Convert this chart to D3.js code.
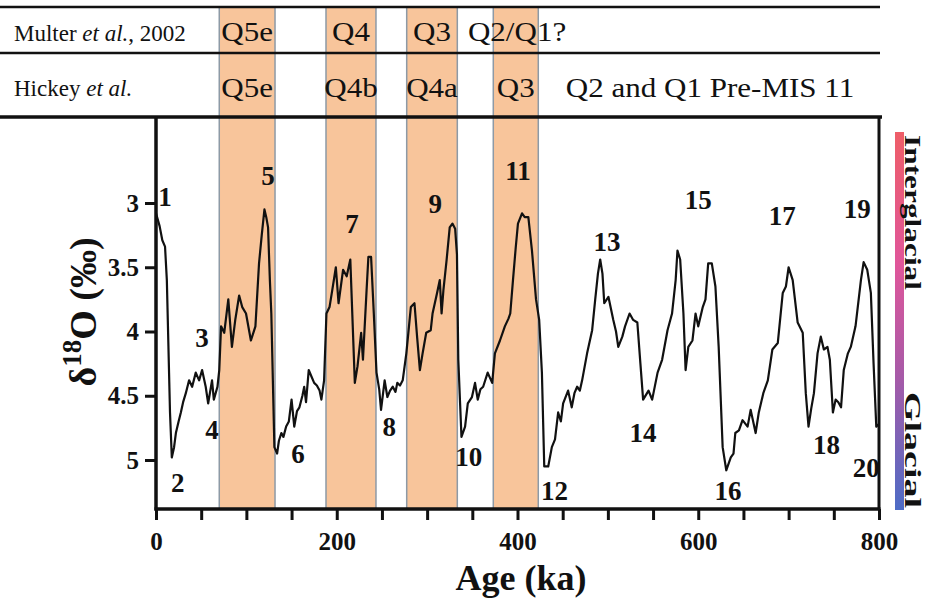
<!DOCTYPE html>
<html>
<head>
<meta charset="utf-8">
<style>
  body { margin: 0; background: #fff; }
  text { font-family: "Liberation Serif", "Times New Roman", serif; fill: #111; }
</style>
</head>
<body>
<svg id="chart" width="930" height="599"></svg>
<script src="https://cdn.jsdelivr.net/npm/d3@7"></script>
<script>
// d18O record (age in ka, d18O in per mil)
let ages = [0, 4, 7, 10, 12, 15.5, 17.5, 20, 22, 25, 27.5, 30, 33, 36.6, 40, 44, 47.7, 51, 55, 57.7,
  62, 64, 68, 70, 72, 75.5, 80, 84, 87.7, 92, 95.4, 99.6, 105, 110, 114, 117, 120, 122, 124, 126,
  127.6, 131, 134, 136, 138.7, 141, 144, 147, 150, 153, 156, 158.7, 162, 164, 166, 169, 172, 175, 178, 181,
  183, 186, 188.6, 192, 195, 199, 202, 207, 211, 215, 220, 223, 227, 229, 233, 235, 238, 241, 244, 247,
  249, 253, 256, 259, 262, 265, 267, 270, 273, 277, 282, 286, 289, 292, 295, 299, 304, 306, 311, 314,
  316, 318, 321.6, 325, 328, 331, 333, 334.5, 338, 342, 345, 349.6, 353, 356, 359, 362, 367, 372, 375, 380.6,
  386, 390, 392, 395, 398, 400.5, 405, 408, 412, 416, 420.5, 424, 427, 429.6, 434, 438, 441.5, 445, 448, 450.5,
  456, 460, 463, 466, 469, 471.5, 477, 482.6, 486, 489, 491.5, 494, 496, 500.6, 506, 509, 511.5, 516, 519, 524,
  528, 532.6, 536, 539, 545, 549, 555, 560, 566, 571, 575, 577, 580, 583.6, 586, 589, 593.6, 597, 600, 605,
  608, 611, 615, 619, 622.6, 627, 631, 636, 639, 641, 645, 649, 654.6, 658, 663.5, 667, 672, 677, 682, 688,
  693.5, 697, 700, 704.5, 710, 715.6, 719, 722, 725, 728, 732, 735.6, 739, 743, 745.6, 749, 752, 755, 758, 761,
  765.6, 768.8, 774, 780, 783, 787, 791, 794, 797, 800];
let d18O = [3.08, 3.18, 3.29, 3.34, 3.60, 4.63, 4.98, 4.90, 4.79, 4.70, 4.63, 4.55, 4.48, 4.38, 4.43, 4.32, 4.38, 4.30, 4.43, 4.56,
  4.38, 4.53, 4.43, 4.30, 3.96, 4.01, 3.75, 4.12, 3.91, 3.72, 3.81, 3.86, 4.07, 3.96, 3.47, 3.25, 3.05, 3.11, 3.19, 3.60,
  3.86, 4.90, 4.95, 4.85, 4.79, 4.82, 4.74, 4.70, 4.53, 4.74, 4.62, 4.59, 4.50, 4.43, 4.55, 4.30, 4.35, 4.40, 4.42, 4.46,
  4.53, 4.38, 3.86, 3.81, 3.68, 3.50, 3.78, 3.52, 3.57, 3.44, 4.40, 4.27, 4.01, 4.22, 3.68, 3.42, 3.42, 3.86, 4.32, 4.45,
  4.61, 4.38, 4.51, 4.46, 4.43, 4.47, 4.40, 4.42, 4.38, 4.17, 3.81, 3.78, 4.05, 4.30, 4.17, 4.01, 3.99, 3.86, 3.70, 3.60,
  3.86, 3.68, 3.44, 3.19, 3.16, 3.20, 3.40, 4.22, 4.82, 4.74, 4.56, 4.51, 4.40, 4.53, 4.45, 4.43, 4.32, 4.40, 4.17, 4.07,
  3.96, 3.90, 3.86, 3.60, 3.35, 3.16, 3.08, 3.11, 3.11, 3.37, 3.75, 3.91, 4.32, 5.05, 5.05, 4.90, 4.84, 4.63, 4.70, 4.56,
  4.46, 4.59, 4.48, 4.43, 4.46, 4.38, 4.17, 3.99, 3.75, 3.55, 3.44, 3.55, 3.78, 3.73, 3.91, 4.00, 4.12, 4.04, 3.96, 3.86,
  3.91, 3.93, 4.25, 4.53, 4.46, 4.53, 4.32, 4.22, 3.99, 3.86, 3.60, 3.37, 3.44, 3.86, 4.30, 4.12, 4.07, 3.86, 3.96, 3.81,
  3.75, 3.47, 3.47, 3.65, 4.12, 4.90, 5.08, 4.98, 4.95, 4.79, 4.77, 4.69, 4.74, 4.61, 4.79, 4.63, 4.48, 4.38, 4.14, 4.09,
  3.70, 3.65, 3.50, 3.60, 3.93, 4.01, 4.48, 4.74, 4.60, 4.48, 4.17, 4.04, 4.14, 4.12, 4.22, 4.63, 4.53, 4.55, 4.59, 4.30,
  4.17, 4.12, 3.96, 3.60, 3.46, 3.52, 3.70, 4.25, 4.74, 4.72];

// marine isotope stage labels, anchored in data units (age, d18O at baseline)
let stageNums = ["1", "2", "3", "4", "5", "6", "7", "8", "9", "10",
  "11", "12", "13", "14", "15", "16", "17", "18", "19", "20"];
let stageAge = [10, 24, 51, 62, 124, 157, 217, 258, 309, 346,
  400.5, 441, 499, 539, 600, 633, 693, 742, 776, 786];
let stageVal = [3.02, 5.25, 4.12, 4.84, 2.86, 5.02, 3.23, 4.81, 3.08, 5.05,
  2.82, 5.31, 3.37, 4.86, 3.05, 5.31, 3.17, 4.95, 3.12, 5.13];

// shaded terrace bands (ka)
let bandStart = [70, 188.1, 277.4, 373.2];
let bandEnd = [131.7, 243.4, 333.4, 423];
let multerLabels = ["Q5e", "Q4", "Q3", "Q2/Q1?"];
let hickeyLabels = ["Q5e", "Q4b", "Q4a", "Q3"];
let extraHickey = "Q2 and Q1 Pre-MIS 11";
let extraHickeyAge = 613;

let xTicks = d3.range(0, 801, 50);
let xLabelled = [0, 200, 400, 600, 800];
let yTicks = [3, 3.5, 4, 4.5, 5];

let svg = d3.select("#chart");
let x = d3.scaleLinear().domain([0, 800]).range([156, 879]);
let y = d3.scaleLinear().domain([3, 5]).range([203, 460]);
let plotTop = 117, plotBottom = 509;

// bands
let bands = svg.append("g");
bands.selectAll("rect")
  .data(bandStart)
  .enter()
  .append("rect")
  .attr("x", (d) => x(d))
  .attr("y", 7)
  .attr("width", (d, i) => x(bandEnd[i]) - x(d))
  .attr("height", plotBottom - 7)
  .attr("fill", "#f8c59b")
  .attr("stroke", "#8d9aa6")
  .attr("stroke-width", 1.5);

// header lines
let lines = svg.append("g").attr("stroke", "#111");
lines.append("line").attr("x1", 0).attr("x2", 880).attr("y1", 7).attr("y2", 7).attr("stroke-width", 2.5);
lines.append("line").attr("x1", 0).attr("x2", 880).attr("y1", 53).attr("y2", 53).attr("stroke-width", 2.5);

// header texts
let head = svg.append("g");
let t1 = head.append("text").attr("x", 14).attr("y", 41).attr("font-size", 23);
t1.append("tspan").text("Multer ");
t1.append("tspan").attr("font-style", "italic").text("et al.");
t1.append("tspan").text(", 2002");
let t2 = head.append("text").attr("x", 14).attr("y", 96).attr("font-size", 23);
t2.append("tspan").text("Hickey ");
t2.append("tspan").attr("font-style", "italic").text("et al.");

function headLabel(txt, cx, base) {
  head.append("text")
    .attr("transform", `translate(${cx},${base}) scale(1.15,1)`)
    .attr("text-anchor", "middle")
    .attr("font-size", 27)
    .text(txt);
}
multerLabels.forEach((s, i) => {
  let mid = (bandStart[i] + bandEnd[i]) / 2;
  if (i === 3) mid = 399.5;
  headLabel(s, x(mid), 41);
});
hickeyLabels.forEach((s, i) => headLabel(s, x((bandStart[i] + bandEnd[i]) / 2), 97));
headLabel(extraHickey, x(extraHickeyAge), 97);

// curve
let line = d3.line().x((d, i) => x(ages[i])).y((d) => y(d));
svg.append("path")
  .datum(d18O)
  .attr("d", line)
  .attr("fill", "none")
  .attr("stroke", "#111")
  .attr("stroke-width", 2.2)
  .attr("stroke-linejoin", "round");

// axes
let xAxis = d3.axisBottom(x)
  .tickValues(xTicks)
  .tickFormat((d) => (xLabelled.includes(d) ? d : ""))
  .tickSize(11)
  .tickSizeOuter(0)
  .tickPadding(12);
let gx = svg.append("g").attr("transform", `translate(0,${plotBottom})`).call(xAxis);
gx.select(".domain").remove();

let yAxis = d3.axisLeft(y)
  .tickValues(yTicks)
  .tickFormat(d3.format("~g"))
  .tickSize(11)
  .tickPadding(6);
let gy = svg.append("g").attr("transform", `translate(${x(0)},0)`).call(yAxis);
gy.select(".domain").remove();

[gx, gy].forEach((g) => {
  g.selectAll(".tick line").attr("stroke", "#111").attr("stroke-width", 3);
  g.selectAll(".tick text")
    .attr("font-family", "Liberation Serif, serif")
    .attr("font-weight", "bold")
    .attr("font-size", 25)
    .attr("fill", "#111");
});

// frame
let frame = svg.append("g").attr("stroke", "#111").attr("fill", "none");
frame.append("line").attr("x1", 0).attr("x2", 882).attr("y1", plotTop).attr("y2", plotTop).attr("stroke-width", 3.5);
frame.append("line").attr("x1", x(0)).attr("x2", x(0)).attr("y1", plotTop).attr("y2", plotBottom + 1.5).attr("stroke-width", 3.5);
frame.append("line").attr("x1", x(0) - 1.5).attr("x2", x(800) + 1.5).attr("y1", plotBottom).attr("y2", plotBottom).attr("stroke-width", 3.5);
frame.append("line").attr("x1", x(800)).attr("x2", x(800)).attr("y1", plotTop).attr("y2", plotBottom).attr("stroke-width", 3);

// stage labels
svg.append("g")
  .selectAll("text")
  .data(stageNums)
  .enter()
  .append("text")
  .attr("x", (d, i) => x(stageAge[i]))
  .attr("y", (d, i) => y(stageVal[i]))
  .attr("text-anchor", "middle")
  .attr("font-weight", "bold")
  .attr("font-size", 27)
  .text((d) => d);

// axis titles
svg.append("text")
  .attr("x", x(404))
  .attr("y", 590)
  .attr("text-anchor", "middle")
  .attr("font-weight", "bold")
  .attr("font-size", 36)
  .text("Age (ka)");

let yt = svg.append("text")
  .attr("transform", "translate(96,312) rotate(-90)")
  .attr("text-anchor", "middle")
  .attr("font-weight", "bold")
  .attr("font-size", 38);
yt.append("tspan").text("δ");
yt.append("tspan").attr("font-size", 27).attr("dy", -15).text("18");
yt.append("tspan").attr("dy", 15).text("O (‰)");

// glacial / interglacial bar
let grad = svg.append("defs").append("linearGradient")
  .attr("id", "gi").attr("x1", 0).attr("x2", 0).attr("y1", 0).attr("y2", 1);
grad.append("stop").attr("offset", "0%").attr("stop-color", "#ee5e68");
grad.append("stop").attr("offset", "35%").attr("stop-color", "#e0569a");
grad.append("stop").attr("offset", "65%").attr("stop-color", "#a65aa8");
grad.append("stop").attr("offset", "100%").attr("stop-color", "#4d6cc6");
svg.append("rect")
  .attr("x", 895).attr("y", 132).attr("width", 9).attr("height", 378)
  .attr("fill", "url(#gi)");

svg.append("text")
  .attr("transform", "translate(905,135) rotate(90)")
  .attr("font-weight", "bold")
  .attr("font-size", 24)
  .attr("textLength", 155)
  .attr("lengthAdjust", "spacingAndGlyphs")
  .text("Interglacial");
svg.append("text")
  .attr("transform", "translate(905,392) rotate(90)")
  .attr("font-weight", "bold")
  .attr("font-size", 24)
  .attr("textLength", 116)
  .attr("lengthAdjust", "spacingAndGlyphs")
  .text("Glacial");
</script>
</body>
</html>
